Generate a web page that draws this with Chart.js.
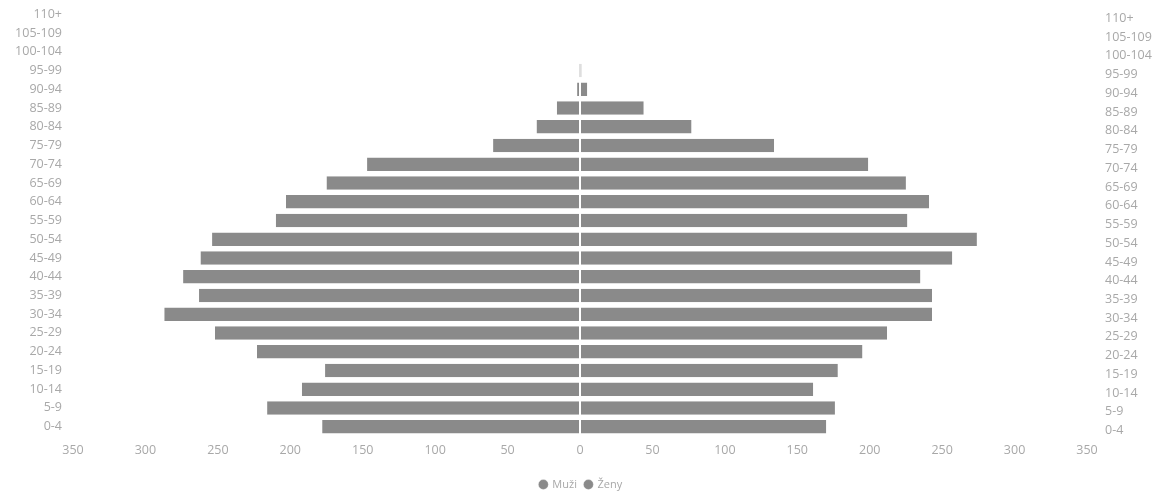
<!DOCTYPE html>
<html>
<head>
<meta charset="utf-8">
<script src="https://cdn.jsdelivr.net/npm/chart.js@4"></script>
<style>
    html, body { margin: 0; padding: 0; background: #fff; }
    #wrap { width: 1162px; height: 493px; }
</style>
</head>
<body>
<div id="wrap"><canvas id="chart"></canvas></div>
<script>
// age groups, top to bottom
var ageGroups = [
    '110+', '105-109', '100-104', '95-99', '90-94', '85-89', '80-84',
    '75-79', '70-74', '65-69', '60-64', '55-59', '50-54', '45-49',
    '40-44', '35-39', '30-34', '25-29', '20-24', '15-19', '10-14',
    '5-9', '0-4'
];

// men (drawn to the left)
var muzi = [
    0, 0, 0, 0.5, 2, 16, 30,
    60, 147, 175, 203, 210, 254, 262,
    274, 263, 287, 252, 223, 176, 192,
    216, 178
];

// women (drawn to the right)
var zeny = [
    0, 0, 0, 1, 5, 44, 77,
    134, 199, 225, 241, 226, 274, 257,
    235, 243, 243, 212, 195, 178, 161,
    176, 170
];

var barColor = '#8a8a8a';
var textColor = '#a8a8a8';
var tickFont = {family: 'Open Sans', size: 12.5};
var legendFont = {family: 'Open Sans', size: 11};

function negate(arr) {
    var out = [];
    for (var i = 0; i < arr.length; i++) {
        out.push(-arr[i]);
    }
    return out;
}

// fixedSide pins an axis width and drops the label half-height padding.
function fixedSide(width) {
    return function(scale) {
        scale.width = width;
        scale.paddingTop = 0;
        scale.paddingBottom = 0;
    };
}

var conf = {
    type: 'bar',
    data: {
        labels: ageGroups,
        datasets: [
            {
                label: 'Muži',
                data: negate(muzi),
                backgroundColor: barColor,
                borderColor: '#fff',
                borderWidth: {right: 1, left: 0, top: 0, bottom: 0},
                borderSkipped: false,
                barPercentage: 0.72,
                categoryPercentage: 1,
            },
            {
                label: 'Ženy',
                data: zeny,
                backgroundColor: barColor,
                borderColor: '#fff',
                borderWidth: {left: 1, right: 0, top: 0, bottom: 0},
                borderSkipped: false,
                barPercentage: 0.72,
                categoryPercentage: 1,
            },
        ],
    },
    options: {
        indexAxis: 'y',
        responsive: true,
        maintainAspectRatio: false,
        animation: false,
        layout: {padding: {top: 5, left: 0, right: 0, bottom: -7}},
        scales: {
            x: {
                stacked: true,
                min: -350,
                max: 350,
                grid: {display: false, drawTicks: false},
                border: {display: false},
                ticks: {
                    stepSize: 50,
                    color: textColor,
                    font: tickFont,
                    padding: 7,
                    maxRotation: 0,
                    callback: function(v) { return Math.abs(v); },
                },
                afterFit: function(scale) {
                    scale.height = 35;
                    scale.paddingLeft = 0;
                    scale.paddingRight = 0;
                },
            },
            y: {
                stacked: true,
                position: 'left',
                grid: {display: false, drawTicks: false},
                border: {display: false},
                ticks: {color: textColor, font: tickFont, padding: 11, autoSkip: false},
                afterFit: fixedSide(73),
            },
            y2: {
                type: 'category',
                position: 'right',
                labels: ageGroups,
                grid: {display: false, drawTicks: false},
                border: {display: false},
                ticks: {color: textColor, font: tickFont, padding: 18, autoSkip: false, labelOffset: 4},
                afterFit: fixedSide(75),
            },
        },
        plugins: {
            legend: {
                position: 'bottom',
                labels: {
                    usePointStyle: true,
                    pointStyle: 'circle',
                    boxWidth: 7,
                    boxHeight: 7,
                    padding: 8,
                    color: textColor,
                    font: legendFont,
                },
            },
            tooltip: {enabled: false},
        },
    },
};

new Chart(document.getElementById('chart').getContext('2d'), conf);
</script>
</body>
</html>
